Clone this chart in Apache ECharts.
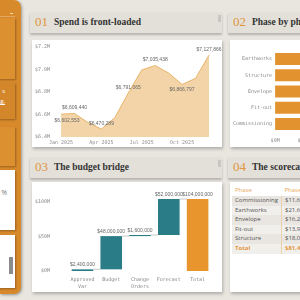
<!DOCTYPE html>
<html>
<head>
<meta charset="utf-8">
<script src="https://cdn.jsdelivr.net/npm/echarts@6/dist/echarts.min.js"></script>
<style>
  body { margin:0; width:300px; height:300px; overflow:hidden; position:relative; background:#e9e6e0; font-family:'Open Sans', sans-serif; }
  .abs { position:absolute; }
  .side { left:0; top:0; width:21px; height:294px; background:#d88a2b; border-radius:0 7px 7px 0; box-shadow:1px 1px 3px rgba(0,0,0,.35); overflow:hidden; }
  .sbox { position:absolute; left:-25px; width:40px; box-shadow:1px 1px 2px rgba(0,0,0,.3); overflow:hidden; }
  .head { height:21px; background:#e3e0d9; box-shadow:0 2px 2px rgba(0,0,0,.22); white-space:nowrap; overflow:hidden; }
  .head .num { position:absolute; left:5px; top:2px; font-family:'Liberation Serif', serif; font-size:13px; color:#e0953c; }
  .head .ttl { position:absolute; left:24px; top:5px; font-family:'Liberation Serif', serif; font-weight:bold; font-size:9.5px; color:#333; }
  .head .bar { position:absolute; right:1px; top:3px; width:3px; height:7px; background:#c9c6c0; }
  .card { background:#fff; box-shadow:1px 2px 3px rgba(0,0,0,.25); overflow:hidden; }
  table { border-collapse:collapse; font-size:6px; color:#555; white-space:nowrap; }
  th { font-weight:normal; color:#e8a655; text-align:left; height:13px; padding:0 3px; }
  td { height:9.6px; padding:0 3px; line-height:9.6px; }
  td.v { border-left:1px solid #ecd2ac; }
  tr.odd td { background:#e9e6e1; }
  tr.even td { background:#f1efeb; }
  tr.total td { background:#f1efeb; color:#e3963f; font-weight:bold; }
</style>
</head>
<body>
<div class="abs side">
  <div class="abs" style="left:0;top:16px;width:15px;height:1px;background:rgba(255,255,255,.25)"></div>
  <div class="abs" style="left:10px;top:13px;width:3px;height:1px;background:#f3d9b5"></div>
  <div class="sbox" style="top:18px;height:61px;background:#dc902f"></div>
  <div class="sbox" style="top:83px;height:36px;background:#d4862a;color:#fff;font-size:6px;text-align:right;line-height:10px;padding-top:3px;padding-right:10px;box-sizing:border-box">s<br><u>g,</u></div>
  <div class="sbox" style="top:127px;height:39px;background:#dc902f"></div>
  <div class="sbox" style="top:170px;height:60px;background:#fff;color:#777;font-size:7px;text-align:right;line-height:46px;padding-right:8px;box-sizing:border-box">%</div>
  <div class="sbox" style="top:235px;height:53px;background:#fff">
    <div class="abs" style="left:34px;top:22px;width:4px;height:17px;background:#8c8c8c"></div>
  </div>
</div>

<div class="abs head" style="left:30px;top:12px;width:192px"><span class="num">01</span><span class="ttl">Spend is front-loaded</span><span class="bar"></span></div>
<div class="abs card" id="spend" style="left:32px;top:40px;width:190px;height:107px"></div>

<div class="abs head" style="left:228px;top:12px;width:110px"><span class="num">02</span><span class="ttl">Phase by phase</span></div>
<div class="abs card" id="phase" style="left:230px;top:40px;width:190px;height:107px"></div>

<div class="abs head" style="left:30px;top:157px;width:192px"><span class="num">03</span><span class="ttl">The budget bridge</span><span class="bar"></span></div>
<div class="abs card" id="bridge" style="left:32px;top:182px;width:190px;height:110px"></div>

<div class="abs head" style="left:228px;top:157px;width:110px"><span class="num">04</span><span class="ttl">The scorecard</span></div>
<div class="abs card" style="left:230px;top:182px;width:190px;height:110px">
  <table id="score" style="position:absolute;left:2px;top:1px"></table>
</div>

<script>
// monthly spend
const months = ['Jan 2025', 'Feb 2025', 'Mar 2025', 'Apr 2025', 'May 2025', 'Jun 2025',
  'Jul 2025', 'Aug 2025', 'Sep 2025', 'Oct 2025', 'Nov 2025', 'Dec 2025']
const spend = [6602553, 6609440, 6528400, 6470289, 6572100, 6791065,
  6996300, 7035438, 6968200, 6866797, 6921500, 7127866]
const spendTicks = { min: 6400000, max: 7200000, interval: 200000 }

// phase totals
const phases = ['Earthworks', 'Structure', 'Envelope', 'Fit-out', 'Commissioning']
const phaseSpend = [21641200, 18083500, 16232700, 13915300, 11617248]

// budget bridge
const bridgeCats = ['Approved Var', 'Budget', 'Change Orders', 'Forecast', 'Total']
const bridgeValues = [2400000, 48000000, 1600000, 52000000, 104000000]

const mono = 'DejaVu Sans Mono'
const axisGrey = '#8a8a8a'
const money = v => '$' + Math.round(v).toLocaleString('en-US')

function initSpend() {
  const chart = echarts.init(document.getElementById('spend'))
  const labelled = [0, 1, 3, 5, 7, 9, 11]
  const below = [0, 9] // these labels sit under the line
  chart.setOption({
    animation: false,
    grid: { left: 26, right: 13, top: 7, bottom: 10 },
    xAxis: {
      type: 'category',
      data: months,
      boundaryGap: false,
      axisLine: { show: false },
      axisTick: { show: false },
      axisLabel: { interval: 2, margin: 3, fontSize: 5, fontFamily: mono, color: axisGrey }
    },
    yAxis: {
      type: 'value',
      min: spendTicks.min,
      max: spendTicks.max,
      interval: spendTicks.interval,
      splitLine: { show: false },
      axisLabel: {
        margin: 11, fontSize: 5, fontFamily: mono, color: axisGrey,
        formatter: v => '$' + (v / 1e6).toFixed(1) + 'M'
      }
    },
    series: [{
      type: 'line',
      symbol: 'circle',
      symbolSize: 0,
      lineStyle: { color: '#e8b468', width: 1 },
      areaStyle: { color: '#f3d4a8', opacity: 1 },
      label: { fontSize: 5, color: '#666', formatter: p => money(p.value) },
      data: spend.map((v, i) => {
        if (labelled.indexOf(i) < 0) return v
        if (i === 0) return { value: v, label: { show: true, position: 'bottom', offset: [6, -1] } }
        if (below.indexOf(i) >= 0) return { value: v, label: { show: true, position: 'bottom', distance: 3 } }
        return { value: v, label: { show: true, position: 'top', distance: 3 } }
      })
    }]
  })
}

function initPhase() {
  const chart = echarts.init(document.getElementById('phase'))
  chart.setOption({
    animation: false,
    grid: { left: 44, right: 10, top: 11, bottom: 15 },
    xAxis: {
      type: 'value',
      min: 0,
      max: 25000000,
      interval: 5000000,
      splitLine: { show: false },
      axisLabel: { margin: 6, fontSize: 5, fontFamily: mono, color: axisGrey, formatter: v => '$' + v / 1e6 + 'M' }
    },
    yAxis: {
      type: 'category',
      data: phases,
      inverse: true,
      axisLine: { show: false },
      axisTick: { show: false },
      axisLabel: { margin: 3, fontSize: 5, fontFamily: mono, color: axisGrey }
    },
    series: [{
      type: 'bar',
      data: phaseSpend,
      barCategoryGap: '26%',
      itemStyle: { color: '#e2932f' }
    }]
  })
}

function initBridge() {
  const chart = echarts.init(document.getElementById('bridge'))
  // running base for the floating bars, total sits on zero
  const base = []
  let run = 0
  bridgeValues.forEach((v, i) => {
    if (i === bridgeValues.length - 1) { base.push(0); return }
    base.push(run)
    run += v
  })
  const ends = bridgeValues.map((v, i) => base[i] + v)
  chart.setOption({
    animation: false,
    grid: { left: 32, right: 10, top: 17, bottom: 21 },
    xAxis: {
      type: 'category',
      data: bridgeCats,
      axisLine: { show: false },
      axisTick: { show: false },
      axisLabel: {
        margin: 5, fontSize: 5, lineHeight: 7, fontFamily: mono, color: axisGrey, interval: 0,
        formatter: v => v.replace(' ', '\n')
      }
    },
    yAxis: {
      type: 'value',
      min: 0,
      max: 'dataMax',
      interval: 50000000,
      splitLine: { show: false },
      axisLabel: {
        margin: 18, fontSize: 5, fontFamily: mono, color: axisGrey, showMaxLabel: false,
        formatter: v => '$' + v / 1e6 + 'M'
      }
    },
    series: [
      {
        type: 'bar', stack: 'wf', barWidth: '75%',
        itemStyle: { color: 'transparent' },
        data: base
      },
      {
        type: 'bar', stack: 'wf', barWidth: '75%',
        label: { show: true, position: 'top', distance: 2, fontSize: 5, color: '#666', formatter: p => money(p.value) },
        data: bridgeValues.map((v, i) => ({
          value: v,
          itemStyle: { color: i === bridgeValues.length - 1 ? '#e8952e' : '#2a7c86' }
        }))
      },
      {
        type: 'custom',
        z: 1,
        renderItem(params, api) {
          const i = params.dataIndex
          if (i >= bridgeCats.length - 1) return
          const y = api.value(1)
          const p1 = api.coord([i, y])
          const p2 = api.coord([i + 1, y])
          const half = api.size([1, 0])[0] * 0.375
          return {
            type: 'line',
            shape: { x1: p1[0] + half, y1: p1[1], x2: p2[0] - half, y2: p2[1] },
            style: { stroke: '#c9c9c9', lineWidth: 1 }
          }
        },
        data: ends.map((v, i) => [i, v])
      }
    ]
  })
}

function buildTable() {
  const rows = phases.map((p, i) => ({ name: p, value: phaseSpend[i] }))
    .sort((a, b) => a.name.localeCompare(b.name))
  let html = '<tr><th style="width:43px">Phase</th><th>Phase spend</th></tr>'
  rows.forEach((r, i) => {
    html += '<tr class="' + (i % 2 ? 'even' : 'odd') + '"><td>' + r.name + '</td><td class="v">' + money(r.value) + '</td></tr>'
  })
  const total = phaseSpend.reduce((a, b) => a + b, 0)
  html += '<tr class="total"><td>Total</td><td class="v">' + money(total) + '</td></tr>'
  document.getElementById('score').innerHTML = html
}

initSpend()
initPhase()
initBridge()
buildTable()
</script>
</body>
</html>
